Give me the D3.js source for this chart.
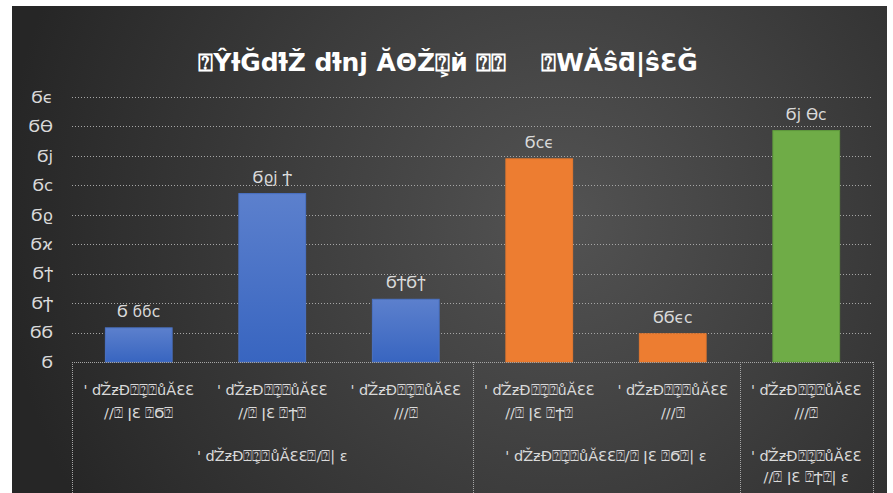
<!DOCTYPE html>
<html>
<head>
<meta charset="utf-8">
<script src="https://cdn.jsdelivr.net/npm/d3@7"></script>
<style>
  html, body { margin: 0; padding: 0; background: #ffffff; }
  svg { display: block; }
</style>
</head>
<body>
<svg id="chart" width="893" height="493"></svg>
<script>
// Chart data
const titleText = "⍰ŶƚĞďƚŽ ďƚnj ĂΘŽ⍰͕й ⍰⍰    ⍰WĂŝƌ|ŝƐĞ";
const categories = ["c1", "c2", "c3", "c4", "c5", "c6"];
const values = [0.116, 0.572, 0.213, 0.69, 0.096, 0.786];
const valueLabels = ["Ϭ ϭϭϲ", "Ϭϱϳ Ϯ", "ϬϮϬϯ", "Ϭϲϵ", "ϬϬϵϲ", "Ϭϳ ϴϲ"];
const barColors = ["blue", "blue", "blue", "orange", "orange", "green"];
const catLine1 = ["' ďŽƶĐ⍰⍰͕⍰ůĂƐƐ", "' ďŽƶĐ⍰⍰͕⍰ůĂƐƐ", "' ďŽƶĐ⍰⍰͕⍰ůĂƐƐ",
                  "' ďŽƶĐ⍰⍰͕⍰ůĂƐƐ", "' ďŽƶĐ⍰⍰͕⍰ůĂƐƐ", "' ďŽƶĐ⍰⍰͕⍰ůĂƐƐ"];
const catLine2 = ["//⍰ ǀƐ ⍰Ϭ⍰", "//⍰ ǀƐ ⍰Ϯ⍰", "///⍰", "//⍰ ǀƐ ⍰Ϯ⍰", "///⍰", "///⍰"];
const groups = [
  { start: 0, end: 3, lines: ["' ďŽƶĐ⍰⍰͕⍰ůĂƐƐ⍰/⍰| ε"] },
  { start: 3, end: 5, lines: ["' ďŽƶĐ⍰⍰͕⍰ůĂƐƐ⍰/⍰ ǀƐ ⍰Ϭ⍰| ε"] },
  { start: 5, end: 6, lines: ["' ďŽƶĐ⍰⍰͕⍰ůĂƐƐ", "//⍰ ǀƐ ⍰Ϯ⍰| ε"] }
];
const yTicks = [0, 0.1, 0.2, 0.3, 0.4, 0.5, 0.6, 0.7, 0.8, 0.9];
const yTickLabels = ["Ϭ", "ϬϬ", "ϬϮ", "Ϭϯ", "Ϭϰ", "Ϭϱ", "Ϭϲ", "Ϭϳ", "Ϭϴ", "Ϭϵ"];

const svg = d3.select("#chart");
const W = 893, H = 493;
const frame = { left: 12, top: 6, right: 887, bottom: 493 };
const plot = { left: 72, right: 873, top: 97, bottom: 362 };

// Background gradient
const defs = svg.append("defs");
const bg = defs.append("radialGradient").attr("id", "bg")
  .attr("gradientUnits", "userSpaceOnUse")
  .attr("cx", 560).attr("cy", 220).attr("r", 560);
bg.append("stop").attr("offset", "0%").attr("stop-color", "#535353");
bg.append("stop").attr("offset", "100%").attr("stop-color", "#262626");

const blueGrad = defs.append("linearGradient").attr("id", "blueGrad")
  .attr("x1", 0).attr("y1", 0).attr("x2", 0).attr("y2", 1);
blueGrad.append("stop").attr("offset", "0%").attr("stop-color", "#5c80cd");
blueGrad.append("stop").attr("offset", "100%").attr("stop-color", "#3865c0");

const fills = { blue: "url(#blueGrad)", orange: "#ed7d31", green: "#6fac47" };
const strokes = { blue: "#4a72c4", orange: "#e4782f", green: "#5f9a3c" };

svg.append("rect")
  .attr("x", frame.left).attr("y", frame.top)
  .attr("width", frame.right - frame.left).attr("height", frame.bottom - frame.top)
  .attr("fill", "url(#bg)");

// Scales
const x = d3.scaleBand().domain(categories).range([plot.left, plot.right]).paddingInner(0.5).paddingOuter(0.25);
const xCell = d3.scaleBand().domain(categories).range([plot.left, plot.right]);
const y = d3.scaleLinear().domain([0, 0.9]).range([plot.bottom, plot.top]);

// Gridlines
svg.append("g").selectAll("line").data(yTicks.filter(d => d > 0)).join("line")
  .attr("x1", plot.left).attr("x2", plot.right)
  .attr("y1", d => Math.round(y(d)) + 0.5).attr("y2", d => Math.round(y(d)) + 0.5)
  .attr("stroke", "#a6a6a6").attr("stroke-width", 1).attr("stroke-dasharray", "1,2");

// Y axis labels
const yAxis = d3.axisLeft(y).tickValues(yTicks).tickSize(0).tickPadding(0)
  .tickFormat((d, i) => yTickLabels[i]);
const yg = svg.append("g").attr("transform", `translate(53,0)`).call(yAxis);
yg.select(".domain").remove();
yg.selectAll("text")
  .attr("fill", "#d9d9d9").attr("font-family", "DejaVu Sans, sans-serif").attr("font-size", 16.5);

// Bars
svg.append("g").selectAll("rect").data(values).join("rect")
  .attr("x", (d, i) => x(categories[i]))
  .attr("y", d => y(d))
  .attr("width", x.bandwidth())
  .attr("height", d => y(0) - y(d))
  .attr("fill", (d, i) => fills[barColors[i]])
  .attr("stroke", (d, i) => strokes[barColors[i]])
  .attr("stroke-width", 1);

// Value labels
svg.append("g").selectAll("text").data(values).join("text")
  .attr("x", (d, i) => x(categories[i]) + x.bandwidth() / 2)
  .attr("y", d => y(d) - 11)
  .attr("text-anchor", "middle")
  .attr("fill", "#d9d9d9")
  .attr("font-family", "DejaVu Sans, sans-serif").attr("font-size", 15.5)
  .text((d, i) => valueLabels[i]);

// Category axis lines
const axisG = svg.append("g");
axisG.append("line")
  .attr("x1", plot.left).attr("x2", plot.right)
  .attr("y1", plot.bottom + 0.5).attr("y2", plot.bottom + 0.5)
  .attr("stroke", "#a6a6a6").attr("stroke-dasharray", "1,1");
const boundaries = [plot.left].concat(groups.map(g => xCell(categories[g.end - 1]) + xCell.bandwidth()));
axisG.selectAll("line.sep").data(boundaries).join("line").attr("class", "sep")
  .attr("x1", d => Math.round(d) + 0.5).attr("x2", d => Math.round(d) + 0.5)
  .attr("y1", plot.bottom).attr("y2", H)
  .attr("stroke", "#a6a6a6").attr("stroke-dasharray", "1,1");

// Category labels
const catG = svg.append("g").attr("fill", "#d9d9d9")
  .attr("font-family", "DejaVu Sans, sans-serif").attr("font-size", 14.5)
  .attr("text-anchor", "middle");
catG.selectAll("text.l1").data(categories).join("text").attr("class", "l1")
  .attr("x", d => xCell(d) + xCell.bandwidth() / 2).attr("y", 395)
  .text((d, i) => catLine1[i]);
catG.selectAll("text.l2").data(categories).join("text").attr("class", "l2")
  .attr("x", d => xCell(d) + xCell.bandwidth() / 2).attr("y", 418)
  .text((d, i) => catLine2[i]);
groups.forEach(g => {
  const x0 = xCell(categories[g.start]);
  const x1 = xCell(categories[g.end - 1]) + xCell.bandwidth();
  g.lines.forEach((t, k) => {
    catG.append("text").attr("x", (x0 + x1) / 2).attr("y", 461 + k * 21).text(t);
  });
});

// Title
svg.append("text")
  .attr("x", 448).attr("y", 71)
  .attr("text-anchor", "middle")
  .attr("fill", "#ffffff")
  .attr("font-family", "DejaVu Sans, sans-serif")
  .attr("font-weight", "bold").attr("font-size", 25)
  .style("white-space", "pre")
  .text(titleText);
</script>
</body>
</html>
